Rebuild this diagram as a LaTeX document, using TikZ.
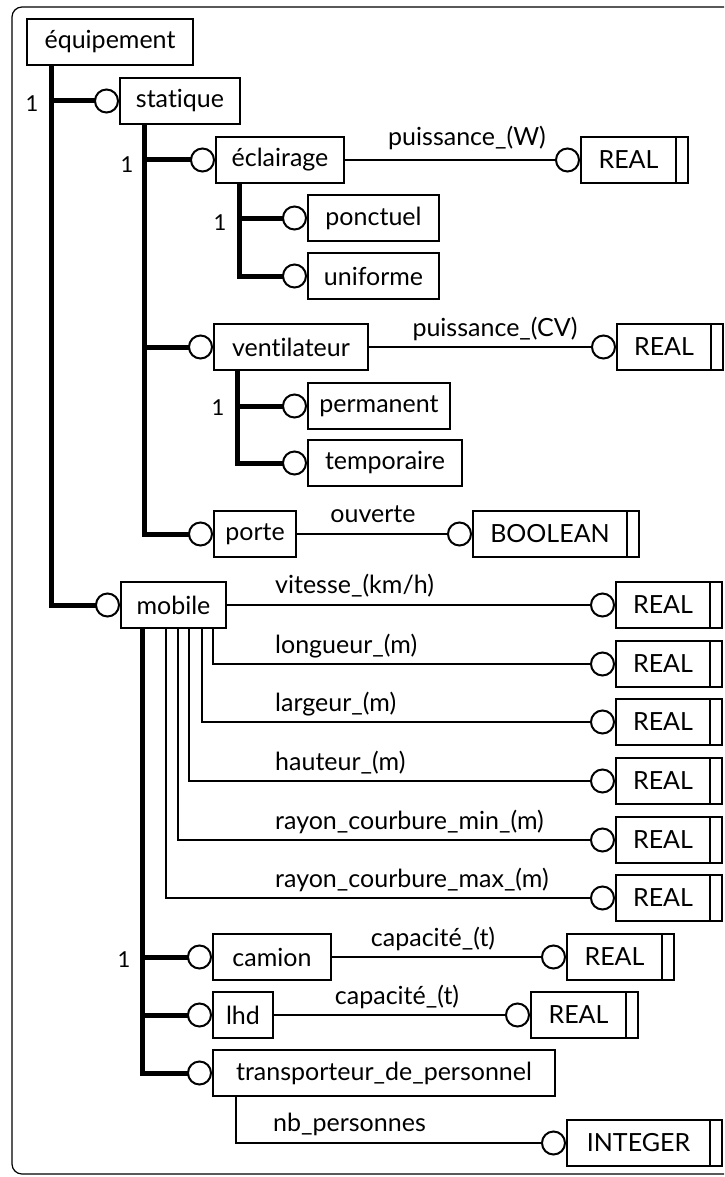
\documentclass[tikz,border=0pt]{standalone}
\usepackage{fontspec}
\setmainfont{Lato}[Ligatures={NoCommon}]
\usetikzlibrary{arrows.meta}

\begin{document}
\begin{tikzpicture}[x=1pt,y=-1pt,
    ent/.style={draw,line width=2pt,minimum height=46pt,inner sep=0pt,font=\fontsize{25}{30}\selectfont},
    typ/.style={ent,execute at end node={\hspace*{12pt}},
      path picture={\draw[line width=1.5pt] ([xshift=-12pt]path picture bounding box.north east) -- ([xshift=-12pt]path picture bounding box.south east);}},
    lbl/.style={anchor=base,inner sep=0pt,font=\fontsize{25}{30}\selectfont},
    card/.style={inner sep=0pt,font=\fontsize{22}{26}\selectfont},
    sub/.style={line width=5pt,-{Circle[open,length=25pt,line width'=2pt]}},
    attr/.style={line width=2pt,-{Circle[open,length=25pt,line width'=2pt]}}]
        \useasboundingbox (0,0) rectangle (724,1177);
        \clip (0,0) rectangle (724,1177);
        % frame
        \draw[line width=1.2pt,rounded corners=10pt] (740,7) -- (12,7) -- (12,1174) -- (740,1174);

        % entities
        \node[ent,minimum width=166pt] (equip) at (110,42) {équipement};
        \node[ent,minimum width=120pt] (stat) at (180,101) {statique};
        \node[ent,minimum width=128pt] (eclair) at (280,160) {éclairage};
        \node[ent,minimum width=131pt] (ponct) at (373.5,218) {ponctuel};
        \node[ent,minimum width=131pt] (unif) at (373.5,276) {uniforme};
        \node[ent,minimum width=154pt] (venti) at (291,347) {ventilateur};
        \node[ent,minimum width=142pt] (perma) at (379,406) {permanent};
        \node[ent,minimum width=154pt] (tempo) at (385,463) {temporaire};
        \node[ent,minimum width=82pt] (porte) at (255,534) {porte};
        \node[ent,minimum width=105pt] (mobile) at (173.5,605) {mobile};
        \node[ent,minimum width=118pt] (camion) at (272,957) {camion};
        \node[ent,minimum width=60pt] (lhd) at (243,1015) {lhd};
        \node[ent,minimum width=342pt] (transp) at (384,1073) {transporteur\_de\_personnel};

        % simple types
        \node[typ,minimum width=107pt] (realEcl) at (634.5,160) {REAL};
        \node[typ,minimum width=106pt] (realVen) at (670,347) {REAL};
        \node[typ,minimum width=166pt] (bool) at (556,534) {BOOLEAN};
        \node[typ,minimum width=106pt] (realVit) at (669,605) {REAL};
        \node[typ,minimum width=106pt] (realLon) at (669,664) {REAL};
        \node[typ,minimum width=106pt] (realLar) at (669,722) {REAL};
        \node[typ,minimum width=106pt] (realHau) at (669,781) {REAL};
        \node[typ,minimum width=106pt] (realRmin) at (669,840) {REAL};
        \node[typ,minimum width=106pt] (realRmax) at (669,898) {REAL};
        \node[typ,minimum width=107pt] (realCam) at (620.5,957) {REAL};
        \node[typ,minimum width=107pt] (realLhd) at (584.5,1015) {REAL};
        \node[typ,minimum width=155pt] (integ) at (644.5,1143) {INTEGER};

        % subtype trees
        \draw[sub] (equip.south west) ++(25,0) |- (stat.west);
        \draw[sub] (equip.south west) ++(25,0) |- (mobile.west);
        \draw[sub] (stat.south west) ++(25,0) |- (eclair.west);
        \draw[sub] (stat.south west) ++(25,0) |- (venti.west);
        \draw[sub] (stat.south west) ++(25,0) |- (porte.west);
        \draw[sub] (eclair.south west) ++(24,0) |- (ponct.west);
        \draw[sub] (eclair.south west) ++(24,0) |- (unif.west);
        \draw[sub] (venti.south west) ++(24,0) |- (perma.west);
        \draw[sub] (venti.south west) ++(24,0) |- (tempo.west);
        \draw[sub] (mobile.south west) ++(22,0) |- (camion.west);
        \draw[sub] (mobile.south west) ++(22,0) |- (lhd.west);
        \draw[sub] (mobile.south west) ++(22,0) |- (transp.west);
        \node[card] (one1) at (32,104) {1};
        \node[card] (one2) at (127,165) {1};
        \node[card] (one3) at (220,223) {1};
        \node[card] (one4) at (218,408) {1};
        \node[card] (one5) at (124,960) {1};

        % attributes
        \draw[attr] (eclair) -- (realEcl);
        \draw[attr] (venti) -- (realVen);
        \draw[attr] (porte) -- (bool);
        \draw[attr] (mobile) -- (realVit);
        \draw[attr] (mobile.south west) ++(93,0) |- (realLon.west);
        \draw[attr] (mobile.south west) ++(82,0) |- (realLar.west);
        \draw[attr] (mobile.south west) ++(69,0) |- (realHau.west);
        \draw[attr] (mobile.south west) ++(58,0) |- (realRmin.west);
        \draw[attr] (mobile.south west) ++(46,0) |- (realRmax.west);
        \draw[attr] (camion) -- (realCam);
        \draw[attr] (lhd) -- (realLhd);
        \draw[attr] (transp.south west) ++(24,0) |- (integ.west);

        \node[lbl] (lPuisW) at (467,146) {puissance\_(W)};
        \node[lbl] (lPuisCV) at (495,336) {puissance\_(CV)};
        \node[lbl] (lOuv) at (373,522) {ouverte};
        \node[lbl,anchor=base west] (lVit) at (275,593) {vitesse\_(km/h)};
        \node[lbl,anchor=base west] (lLon) at (275,653) {longueur\_(m)};
        \node[lbl,anchor=base west] (lLar) at (275,711) {largeur\_(m)};
        \node[lbl,anchor=base west] (lHau) at (275,770) {hauteur\_(m)};
        \node[lbl,anchor=base west] (lRmin) at (275,829) {rayon\_courbure\_min\_(m)};
        \node[lbl,anchor=base west] (lRmax) at (275,887) {rayon\_courbure\_max\_(m)};
        \node[lbl] (lCapCam) at (433,946) {capacité\_(t)};
        \node[lbl] (lCapLhd) at (397,1004) {capacité\_(t)};
        \node[lbl,anchor=base west] (lNb) at (273,1131) {nb\_personnes};
\end{tikzpicture}
\end{document}
